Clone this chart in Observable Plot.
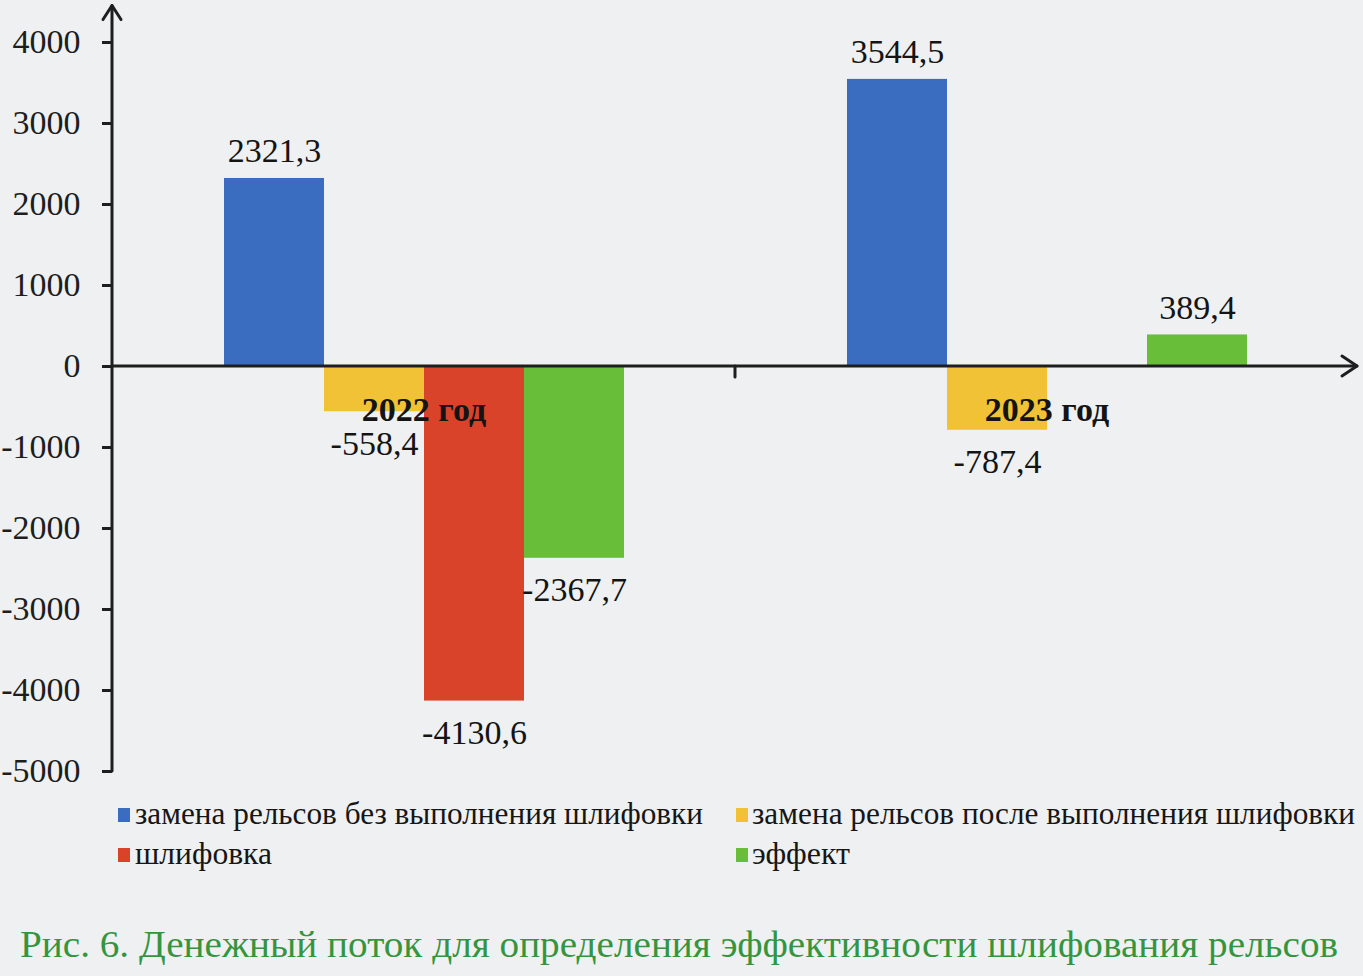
<!DOCTYPE html>
<html>
<head>
<meta charset="utf-8">
<script src="https://cdn.jsdelivr.net/npm/d3@7"></script>
<script src="https://cdn.jsdelivr.net/npm/@observablehq/plot@0.6"></script>
<style>
  body { margin: 0; background: #eef0f1; font-family: "Liberation Serif", "Times New Roman", serif; }
  #wrap { position: relative; width: 1363px; height: 976px; overflow: hidden; }
  #chart { position: absolute; left: 0; top: 0; }
  .leg { position: absolute; font-size: 32px; line-height: 32px; color: #161616; white-space: nowrap; transform-origin: 0 50%; }
  .sw { position: absolute; width: 12px; height: 14px; }
  #caption { position: absolute; left: 20px; top: 925px; font-size: 38px; line-height: 38px; color: #35953f; white-space: nowrap; transform-origin: 0 50%; }
</style>
</head>
<body>
<div id="wrap">
  <div id="chart"></div>
  <div id="legend"></div>
  <div id="caption">Рис. 6. Денежный поток для определения эффективности шлифования рельсов</div>
</div>
<script>
// ---- data ----
const years = ["2022", "2023"];
const seriesNames = [
  "замена рельсов без выполнения шлифовки",
  "замена рельсов после выполнения шлифовки",
  "шлифовка",
  "эффект"
];
const values2022 = [2321.3, -558.4, -4130.6, -2367.7];
const values2023 = [3544.5, -787.4, 0, 389.4];
const seriesColors = ["#3a6cc0", "#f1c235", "#d8432a", "#68be38"];
const yTicks = [4000, 3000, 2000, 1000, 0, -1000, -2000, -3000, -4000, -5000];
const yearSuffix = " год";

const valuesByYear = [values2022, values2023];
const data = [];
years.forEach((yr, i) => {
  seriesNames.forEach((s, j) => data.push({ year: yr, series: s, value: valuesByYear[i][j] }));
});
const fmt = v => String(v).replace(".", ",");

const W = 1363, H = 790, ML = 112, MR = 5;
const plot = Plot.plot({
  width: W, height: H,
  marginLeft: ML, marginRight: MR, marginTop: 0, marginBottom: 0,
  style: { background: "transparent", fontFamily: "Liberation Serif, Times New Roman, serif", overflow: "visible" },
  fx: { domain: years, padding: 0, axis: null },
  x: { domain: seriesNames, paddingInner: 0, paddingOuter: 1.1, axis: null },
  y: { domain: [-5000, 4000], range: [771, 42], label: null },
  color: { domain: seriesNames, range: seriesColors },
  marks: [
    Plot.barY(data, { fx: "year", x: "series", y: "value", fill: "series" }),
    Plot.text(data.filter(d => d.value > 0), {
      fx: "year", x: "series", y: "value", text: d => fmt(d.value),
      dy: -27, fontSize: 34, fill: "#141414"
    }),
    Plot.text(data.filter(d => d.value < 0), {
      fx: "year", x: "series", y: "value", text: d => fmt(d.value),
      dy: 32, fontSize: 34, fill: "#141414"
    }),
    Plot.text(years, {
      fx: d => d, y: () => 0, text: d => d + yearSuffix,
      dy: 44, fontSize: 34, fontWeight: "bold", fill: "#141414"
    }),
    Plot.axisY({
      ticks: yTicks, tickSize: 10, tickPadding: 22, tickFormat: d => String(d),
      fontSize: 34, color: "#1e1e1e", strokeWidth: 3, anchor: "left", label: null
    })
  ]
});
document.getElementById("chart").appendChild(plot);

// axis lines with arrows (positions from Plot's own scales)
const ys = plot.scale("y"), fxs = plot.scale("fx");
const y0 = ys.apply(0), yTop = ys.apply(4450), yBot = ys.apply(-5000);
const xL = ML, xR = W - 6;
const g = d3.select(plot).append("g")
  .attr("stroke", "#1e1e1e").attr("fill", "none").attr("stroke-width", 3)
  .attr("stroke-linecap", "round").attr("stroke-linejoin", "round");
g.append("line").attr("x1", xL).attr("x2", xL).attr("y1", yBot).attr("y2", yTop);
g.append("polyline").attr("points", `${xL - 9},${yTop + 14} ${xL},${yTop} ${xL + 9},${yTop + 14}`);
g.append("line").attr("x1", xL).attr("x2", xR).attr("y1", y0).attr("y2", y0);
g.append("polyline").attr("points", `${xR - 15},${y0 - 10} ${xR},${y0} ${xR - 15},${y0 + 10}`);
const xm = fxs.apply(years[1]);
g.append("line").attr("x1", xm).attr("x2", xm).attr("y1", y0).attr("y2", y0 + 11);

// legend
const legend = document.getElementById("legend");
const legPos = [
  { sx: 118, tx: 135, cy: 815, w: 568 },
  { sx: 736, tx: 752, cy: 815, w: 603 },
  { sx: 118, tx: 135, cy: 855, w: 137 },
  { sx: 736, tx: 752, cy: 855, w: 98 }
];
seriesNames.forEach((s, i) => {
  const p = legPos[i];
  const sw = document.createElement("div");
  sw.className = "sw";
  sw.style.left = p.sx + "px"; sw.style.top = (p.cy - 7) + "px";
  sw.style.background = seriesColors[i];
  legend.appendChild(sw);
  const t = document.createElement("div");
  t.className = "leg";
  t.textContent = s;
  t.style.left = p.tx + "px"; t.style.top = (p.cy - 18) + "px";
  legend.appendChild(t);
  const w = t.getBoundingClientRect().width;
  t.style.transform = `scaleX(${p.w / w})`;
});
const cap = document.getElementById("caption");
const cw = cap.getBoundingClientRect().width;
cap.style.transform = `scaleX(${1318 / cw})`;
</script>
</body>
</html>
